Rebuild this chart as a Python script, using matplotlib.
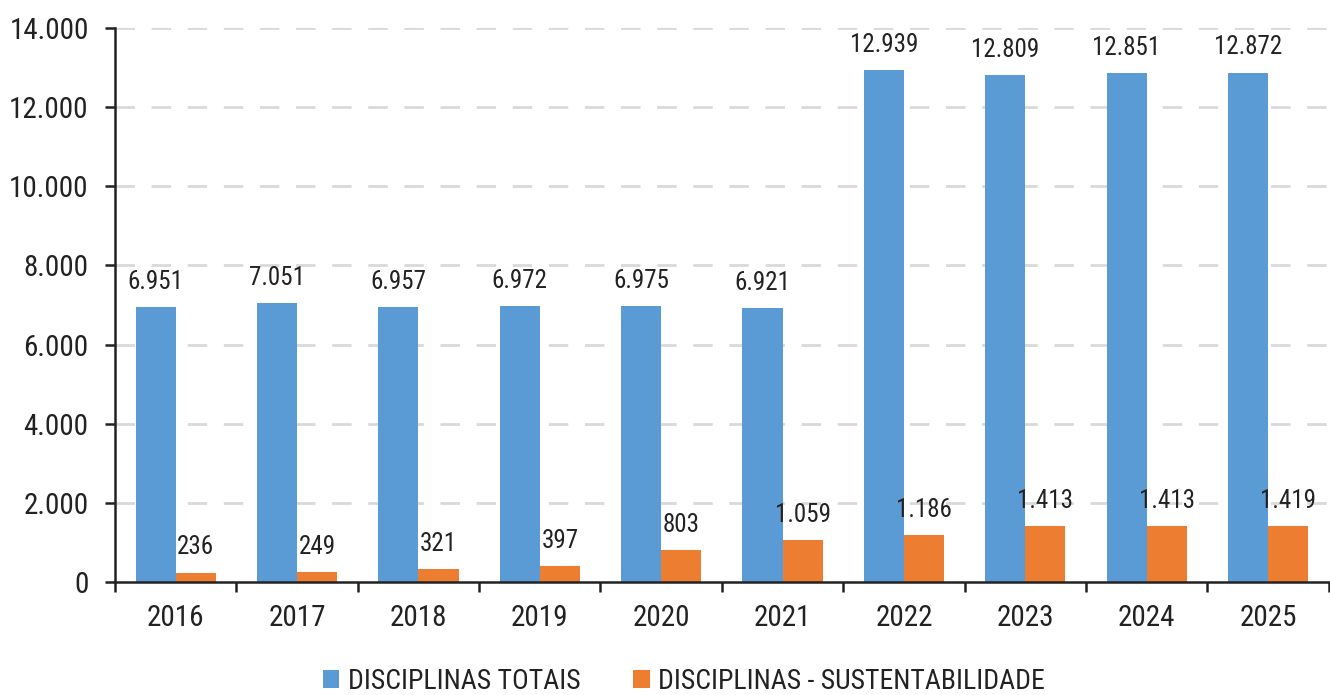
import numpy as np
import matplotlib
matplotlib.use('Agg')
import matplotlib.pyplot as plt
from matplotlib import font_manager
from matplotlib.ticker import FuncFormatter

# fonte condensada: usa a primeira disponível
nomes = {f.name for f in font_manager.fontManager.ttflist}
condensadas = {(f.name, f.stretch) for f in font_manager.fontManager.ttflist}
familia = 'DejaVu Sans'
for c in ['Liberation Sans Narrow', 'Roboto Condensed', 'Open Sans Condensed', 'Arial Narrow']:
    if c in nomes:
        familia = c
        break
plt.rcParams['font.family'] = [familia, 'DejaVu Sans']
if familia == 'DejaVu Sans' and any(n == 'DejaVu Sans' and s == 'condensed' for n, s in condensadas):
    plt.rcParams['font.stretch'] = 'condensed'

anos = ['2016', '2017', '2018', '2019', '2020', '2021', '2022', '2023', '2024', '2025']
totais = [6951, 7051, 6957, 6972, 6975, 6921, 12939, 12809, 12851, 12872]
sustentabilidade = [236, 249, 321, 397, 803, 1059, 1186, 1413, 1413, 1419]

azul = '#5B9BD5'
laranja = '#ED7D31'
texto = '#222222'


def fmt_milhar(v, pos=None):
    return f'{int(round(v)):,}'.replace(',', '.')


fig = plt.figure(figsize=(13.3, 6.95), dpi=100)
ax = fig.add_axes([0.0865, 0.1626, 0.9125, 0.7971])

x = np.arange(len(anos))
w = 0.33
b1 = ax.bar(x - w / 2, totais, w, color=azul, label='DISCIPLINAS TOTAIS', zorder=3)
b2 = ax.bar(x + w / 2, sustentabilidade, w, color=laranja,
            label='DISCIPLINAS - SUSTENTABILIDADE', zorder=3)

# rótulos dos valores
for barras in (b1, b2):
    for r in barras:
        v = r.get_height()
        ax.annotate(fmt_milhar(v), (r.get_x() + r.get_width() / 2, v),
                    xytext=(0, 9.5), textcoords='offset points',
                    ha='center', va='bottom', fontsize=18, color=texto, zorder=4)

ax.set_xlim(-0.5, len(anos) - 0.5)
ax.set_ylim(0, 14000)
ax.set_yticks(np.arange(0, 14001, 2000))
ax.yaxis.set_major_formatter(FuncFormatter(fmt_milhar))

ax.set_xticks(x)
ax.set_xticklabels(anos)
ax.set_xticks(np.arange(-0.5, len(anos)), minor=True)
ax.tick_params(axis='x', which='major', length=0, pad=16, labelsize=21, labelcolor=texto)
ax.tick_params(axis='x', which='minor', length=7, width=1.8, color=texto, direction='out')
ax.tick_params(axis='y', length=7, width=1.8, color=texto, pad=12, labelsize=21,
               labelcolor=texto)

for g in np.arange(2000, 14001, 2000):
    ax.axhline(g, color='#D9D9D9', lw=2, ls=(0, (7, 6)), zorder=1)

for s in ['top', 'right']:
    ax.spines[s].set_visible(False)
for s in ['left', 'bottom']:
    ax.spines[s].set_linewidth(1.8)
    ax.spines[s].set_color(texto)
    ax.spines[s].set_zorder(5)

fig.legend(handles=[b1, b2], loc='center', bbox_to_anchor=(0.514, 0.02), ncol=2,
           frameon=False, fontsize=20, handlelength=0.6, handleheight=0.6,
           handletextpad=0.3, columnspacing=1.9, labelcolor=texto)

fig.savefig('out.png', dpi=100)
